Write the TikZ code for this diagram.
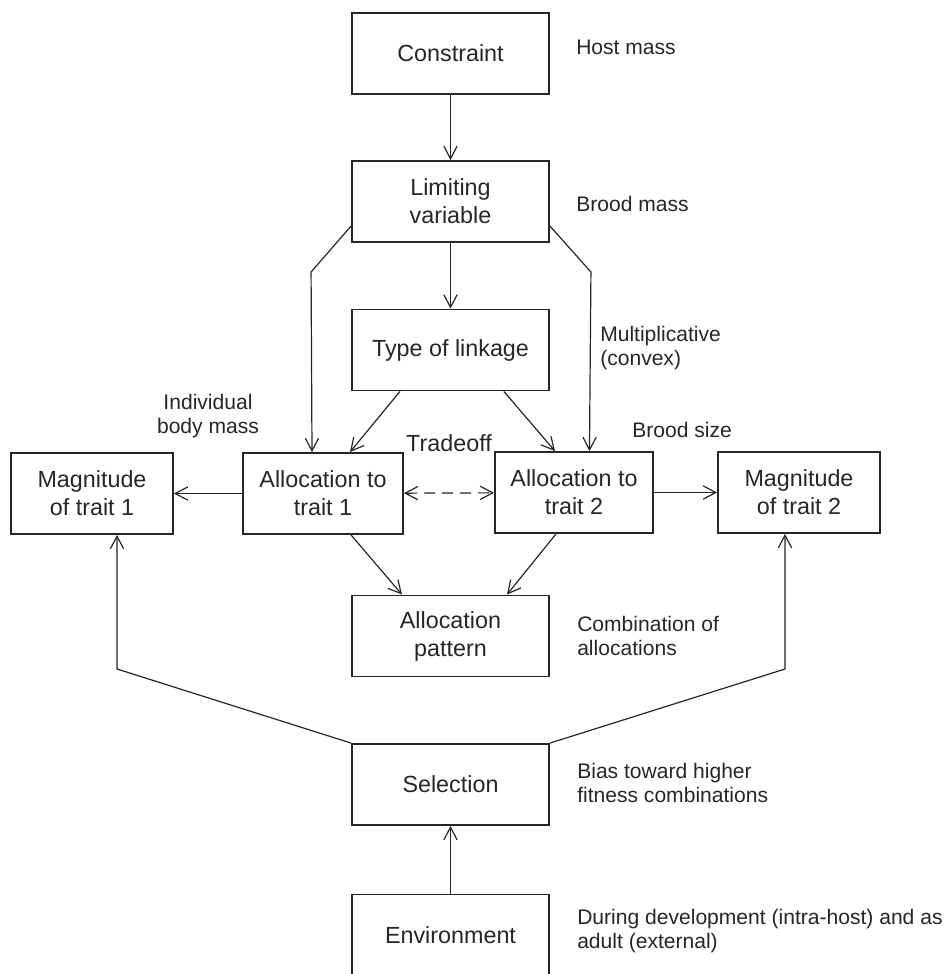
\documentclass[tikz,border=0pt]{standalone}
\usepackage{fontspec}
\setmainfont{Liberation Sans}
\usetikzlibrary{arrows.meta}

\begin{document}
\begin{tikzpicture}[x=0.75pt,y=-0.75pt,
  box/.style={draw=black!85, text=black!85, line width=1.4pt, align=center, inner sep=0pt,
    minimum width=147.75pt, minimum height=60.75pt,
    font=\fontsize{17.5}{21}\selectfont},
  note/.style={text=black!85, align=left, anchor=west, inner sep=0pt,
    font=\fontsize{15.8}{18}\selectfont},
  arr/.style={draw=black!85, line width=0.9pt, -{Straight Barb[length=9.5pt,width=10pt]}}]
\useasboundingbox (0,0) rectangle (949,974);
% boxes
\node[box] (con) at (450.5,53.5) {Constraint};
\node[box] (lim) at (450.5,201.5) {Limiting\\variable};
\node[box] (typ) at (450.5,350) {Type of linkage};
\node[box, minimum width=120pt] (al1) at (323,493.5) {Allocation to\\trait 1};
\node[box, minimum width=121.5pt] (mag1) at (92,493.5) {Magnitude\\of trait 1};
\node[box, minimum width=118.5pt] (al2) at (574,492.5) {Allocation to\\trait 2};
\node[box, minimum width=121.5pt] (mag2) at (799,492.5) {Magnitude\\of trait 2};
\node[box] (pat) at (450.5,636) {Allocation\\pattern};
\node[box] (sel) at (450.5,784.5) {Selection};
\node[box] (env) at (450.5,935) {Environment};
% side notes
\node[note] (n1) at (576,47) {Host mass};
\node[note] (n2) at (576,204) {Brood mass};
\node[note] (n3) at (600,348) {Multiplicative\\(convex)};
\node[note, anchor=center, align=center] (n4) at (208,416) {Individual\\body mass};
\node[text=black!85, inner sep=0pt, font=\fontsize{17.5}{21}\selectfont] (n5) at (449,443) {Tradeoff};
\node[note] (n6) at (632,430) {Brood size};
\node[note] (n7) at (577,636) {Combination of\\allocations};
\node[note] (n8) at (577,783) {Bias toward higher\\fitness combinations};
\node[note] (n9) at (577,931) {During development (intra-host) and as\\adult (external)};
% connectors
\draw[arr] (con) -- (lim);
\draw[arr] (lim) -- (typ);
\draw[arr] ([yshift=-18.4pt]lim.west) -- ++(-40,46) -- ([xshift=-8.25pt]al1.north);
\draw[arr] ([yshift=-18.4pt]lim.east) -- ++(41,46) -- ([xshift=11.6pt]al2.north);
\draw[arr] ([xshift=-37.9pt]typ.south) -- ([xshift=20.25pt]al1.north);
\draw[arr] ([xshift=40pt]typ.south) -- ([xshift=-14.25pt]al2.north);
\draw[arr] (al1) -- (mag1);
\draw[arr] (al2) -- (mag2);
\draw[arr, dash pattern=on 8.5pt off 5pt, {Straight Barb[length=9.5pt,width=10pt]}-{Straight Barb[length=9.5pt,width=10pt]}] (al1) -- (al2);
\draw[arr] ([xshift=21pt]al1.south) -- ([xshift=-36.4pt]pat.north);
\draw[arr] ([xshift=-13.5pt]al2.south) -- ([xshift=42.4pt]pat.north);
\draw[arr] (sel.north west) -- (117,669) -- ([xshift=18.75pt]mag1.south);
\draw[arr] (sel.north east) -- (785,669) -- ([xshift=-10.5pt]mag2.south);
\draw[arr] (env) -- (sel);
\end{tikzpicture}
\end{document}
